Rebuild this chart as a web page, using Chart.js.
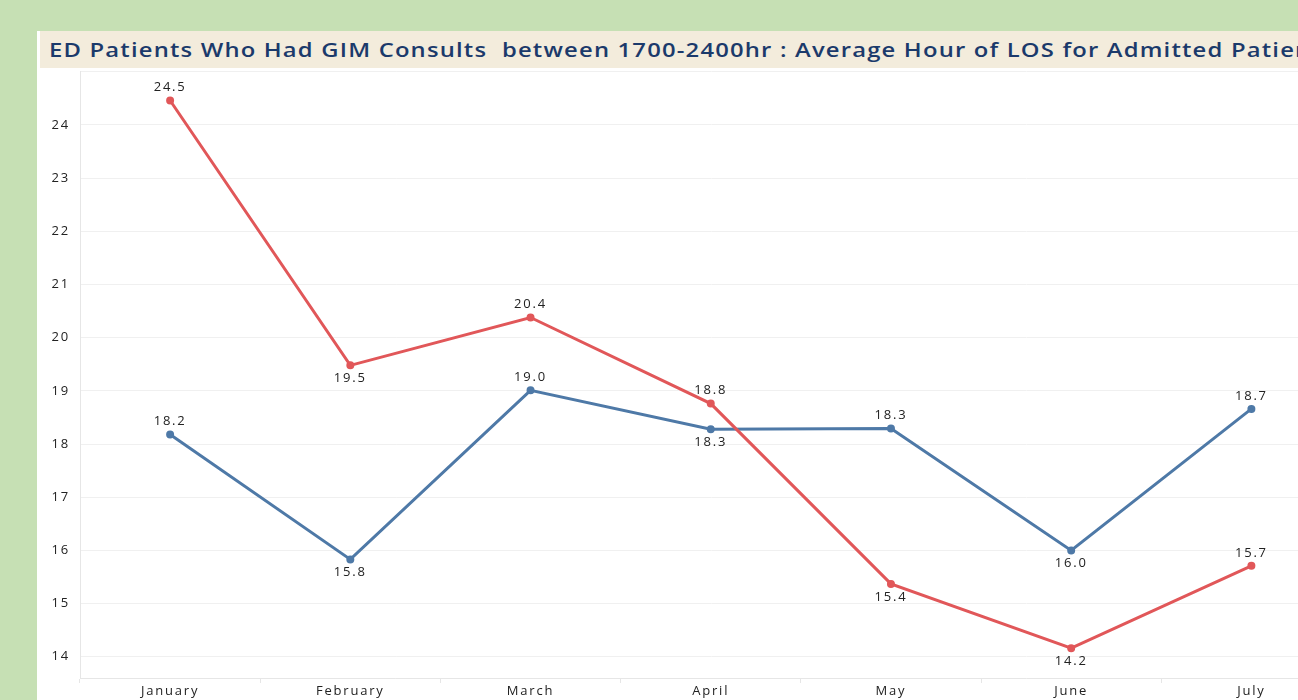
<!DOCTYPE html>
<html>
<head>
<meta charset="utf-8">
<script src="https://cdn.jsdelivr.net/npm/chart.js@4.4.0/dist/chart.umd.min.js"></script>
<style>
  html, body { margin: 0; padding: 0; width: 1298px; height: 700px; overflow: hidden; background: #c6e0b4; }
  #panel { position: absolute; left: 37px; top: 31px; width: 1400px; height: 700px; background: #fff; }
  #title {
    position: absolute; left: 3px; top: 0; width: 1400px; height: 37px; background: #f3ecdc;
    padding-left: 9px; box-sizing: border-box; overflow: hidden;
  }
  #title span {
    display: inline-block; transform: scaleX(1.19); transform-origin: left center;
    font-family: "Open Sans", sans-serif; font-weight: 600; font-size: 20px; color: #1b3a6b;
    line-height: 37px; white-space: pre; letter-spacing: 1px;
  }
  #wrap { position: absolute; left: 0; top: 23px; width: 1310px; height: 646px; }
</style>
</head>
<body>
<div id="panel">
  <div id="title"><span>ED Patients Who Had GIM Consults  between 1700-2400hr : Average Hour of LOS for Admitted Patients</span></div>
  <div id="wrap"><canvas id="losChart"></canvas></div>
</div>
<script>
// months on the x axis
const months = ['January', 'February', 'March', 'April', 'May', 'June', 'July'];
// average LOS hours
const redValues = [24.46, 19.48, 20.38, 18.76, 15.37, 14.16, 15.71];
const blueValues = [18.18, 15.83, 19.01, 18.28, 18.29, 16.0, 18.66];
// which side of the point each value label sits on
const redSides = ['top', 'bottom', 'top', 'top', 'bottom', 'bottom', 'top'];
const blueSides = ['top', 'bottom', 'top', 'bottom', 'top', 'bottom', 'top'];

// wider text like the tableau export
const spacing = {
  id: 'spacing',
  beforeDraw(chart) {
    chart.ctx.letterSpacing = '1.8px';
  }
};

const valueLabels = {
  id: 'valueLabels',
  afterDatasetsDraw(chart) {
    const ctx = chart.ctx;
    ctx.save();
    ctx.font = '13px "Open Sans"';
    ctx.fillStyle = '#222222';
    ctx.textAlign = 'center';
    ctx.textBaseline = 'middle';
    chart.data.datasets.forEach((ds, i) => {
      chart.getDatasetMeta(i).data.forEach((pt, j) => {
        const dy = ds.labelSides[j] === 'top' ? -13 : 13;
        ctx.fillText(ds.data[j].toFixed(1), pt.x, pt.y + dy);
      });
    });
    ctx.restore();
  }
};

const ctx = document.getElementById('losChart');

new Chart(ctx, {
  type: 'line',
  data: {
    labels: months,
    datasets: [{
      data: redValues,
      labelSides: redSides,
      borderColor: '#e15759',
      backgroundColor: '#e15759',
      borderWidth: 3,
      pointRadius: 2.5,
      pointHoverRadius: 2.5,
      tension: 0
    }, {
      data: blueValues,
      labelSides: blueSides,
      borderColor: '#4e79a7',
      backgroundColor: '#4e79a7',
      borderWidth: 3,
      pointRadius: 2.5,
      pointHoverRadius: 2.5,
      tension: 0
    }]
  },
  options: {
    responsive: true,
    maintainAspectRatio: false,
    animation: false,
    layout: { padding: { top: 3, right: 3, left: 0, bottom: 0 } },
    scales: {
      x: {
        offset: true,
        afterFit: s => { s.height = 22; },
        grid: {
          offset: true,
          drawOnChartArea: false,
          tickLength: 5,
          color: '#e6e6e6'
        },
        border: { color: '#e6e6e6' },
        ticks: {
          color: '#222222',
          padding: 0,
          maxRotation: 0,
          font: { family: 'Open Sans', size: 13 }
        }
      },
      y: {
        min: 13.6,
        max: 25,
        afterFit: s => { s.width = 43; },
        grid: { color: '#f0f0f0', drawTicks: false },
        border: { color: '#e6e6e6' },
        ticks: {
          stepSize: 1,
          padding: 10,
          color: '#222222',
          font: { family: 'Open Sans', size: 13 },
          callback: v => (Number.isInteger(v) && v >= 14 && v <= 24) ? v : ''
        }
      }
    },
    plugins: {
      legend: { display: false },
      title: { display: false },
      tooltip: { enabled: false }
    }
  },
  plugins: [spacing, valueLabels]
});
</script>
</body>
</html>
